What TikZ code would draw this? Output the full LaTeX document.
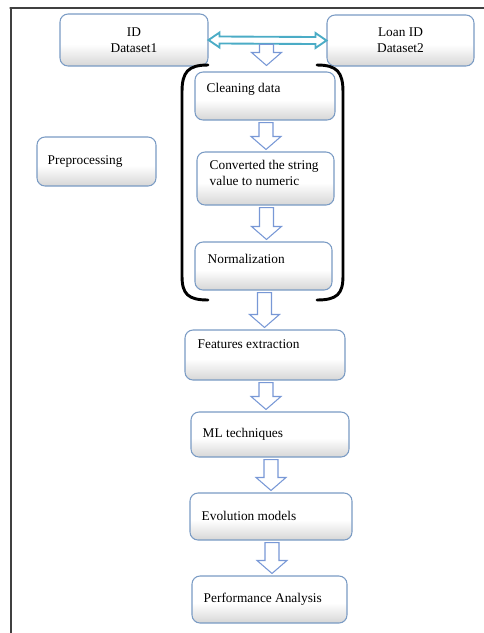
\documentclass[tikz,border=0pt]{standalone}
\usepackage{fontspec}
\setmainfont{Liberation Serif}
\usetikzlibrary{calc}
\definecolor{boxedge}{RGB}{122,155,196}
\definecolor{flowedge}{RGB}{120,152,214}
\definecolor{linkteal}{RGB}{75,172,198}
\pgfdeclareverticalshading{boxshade}{100bp}{color(0bp)=(black!16); color(25bp)=(black!16); color(46bp)=(white); color(100bp)=(white)}
\tikzset{
  procbox/.style={draw=boxedge,line width=0.8pt,rounded corners=6pt,shading=boxshade,inner sep=0pt},
  proctext/.style={anchor=west,inner sep=0pt,align=left,font=\fontsize{10}{12}\selectfont},
  flowarrow/.style={draw=flowedge,fill=white,line width=0.8pt,line join=miter}
}
% hollow block arrow pointing down, from #1 to #2
\newcommand{\hollowarrow}[2]{%
  \draw[flowarrow] let \p1=(#1), \p2=(#2) in
    (\x1-5.25pt,\y1) -- (\x1+5.25pt,\y1) -- (\x1+5.25pt,\y2+9.75pt) -- (\x1+11.25pt,\y2+9.75pt)
    -- (\x1,\y2) -- (\x1-11.25pt,\y2+9.75pt) -- (\x1-5.25pt,\y2+9.75pt) -- cycle;}
\begin{document}
\begin{tikzpicture}[x=0.75pt,y=-0.75pt,line join=round,line cap=round]
  \useasboundingbox (0,0) rectangle (484,633);
  \draw[black!75,line width=0.9pt] (10,8) -- (484,8) (11,8) -- (11,633);
  % data sets
  \node[procbox,minimum width=148*0.75pt,minimum height=52*0.75pt,align=center,font=\fontsize{10}{12}\selectfont] (id) at (134,40) {ID\\Dataset1};
  \node[procbox,minimum width=147*0.75pt,minimum height=51*0.75pt,align=center,font=\fontsize{10}{12}\selectfont] (loan) at (400.5,40.5) {Loan ID\\Dataset2};
  % steps
  \foreach \nm/\cx/\cy/\w/\h/\dx/\dy/\txt in {
      clean/265/96/140/48/12/18/Cleaning data,
      convert/265.5/178.5/137/53/13/21/{Converted the string\\value to numeric},
      norm/263.5/266/137/48/13/17/Normalization,
      feat/265/355/160/50/13/15/Features extraction,
      ml/270/434.5/158/45/12/23/ML techniques,
      evo/271/516.5/162/47/12/23/Evolution models,
      perf/269.5/599.5/155/47/12/24/Performance Analysis,
      pre/96.5/161.5/119/49/11/25/Preprocessing}{
    \node[procbox,minimum width=\w*0.75pt,minimum height=\h*0.75pt] (\nm) at (\cx,\cy) {};
    \node[proctext] (\nm-t) at ($(\nm.north west)+(\dx,\dy)$) {\txt};}
  % link between data sets
  \path (id.east) coordinate (L) (loan.west) coordinate (R);
  \draw[linkteal,fill=white,line width=1.4pt,line join=miter]
    (L) -- ($(L)+(11,-7.5)$) -- ($(L)+(11,-3.5)$) -- ($(R)+(-11,-3.5)$) -- ($(R)+(-11,-7.5)$) -- (R)
    -- ($(R)+(-11,7.5)$) -- ($(R)+(-11,3.5)$) -- ($(L)+(11,3.5)$) -- ($(L)+(11,7.5)$) -- cycle;
  \coordinate (M) at ($(L)!0.5!(R)$);
  % flow
  \hollowarrow{$(M)+(-1,4)$}{$(clean.north)+(0,-6)$}
  \foreach \a/\b in {clean/convert,convert/norm,norm/feat,feat/ml,ml/evo,evo/perf}{
    \hollowarrow{$(\a.south)+(1,2)$}{$(\b.north)+(0,-2)$}}
  % preprocessing bracket
  \draw[line width=2.2pt] (208,65) .. controls (188,65) and (182,72) .. (182,92) -- (182,276)
    .. controls (182,294) and (188,300) .. (208,300);
  \draw[line width=2.2pt] (317,65) .. controls (337,65) and (343,72) .. (343,92) -- (343,276)
    .. controls (343,294) and (337,300) .. (317,300);
\end{tikzpicture}
\end{document}
